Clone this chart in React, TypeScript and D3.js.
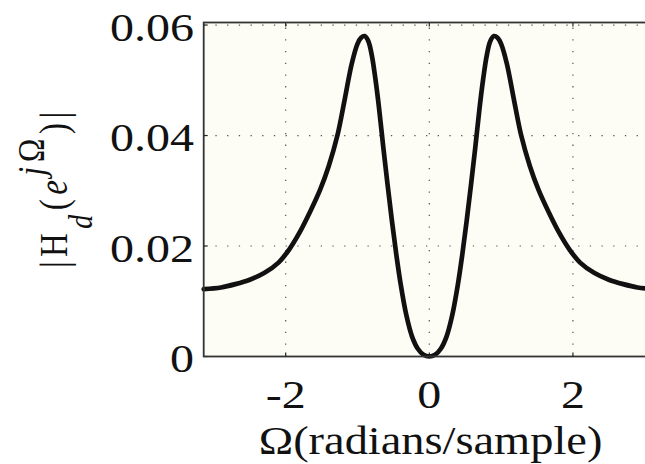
import React from "react";
import * as d3 from "d3";

// Frequency axis (radians/sample) and magnitude readings
const omega = [
  -3.1416, -2.9, -2.7, -2.5, -2.3, -2.1, -1.95, -1.8, -1.66, -1.52, -1.4, -1.28, -1.18, -1.08, -1.0,
  -0.95, -0.9, -0.85, -0.8, -0.75, -0.7, -0.64, -0.58, -0.52, -0.46, -0.4, -0.32, -0.24, -0.16, -0.08,
  0,
  0.08, 0.16, 0.24, 0.32, 0.4, 0.46, 0.52, 0.58, 0.64, 0.7, 0.75, 0.8, 0.85, 0.9, 0.95,
  1.0, 1.08, 1.18, 1.28, 1.4, 1.52, 1.66, 1.8, 1.95, 2.1, 2.3, 2.5, 2.7, 2.9, 3.1416,
];
const magnitude = [
  0.0122, 0.0125, 0.0131, 0.0139, 0.0151, 0.017, 0.0194, 0.0226, 0.0262, 0.0302, 0.0345, 0.04, 0.0464, 0.053, 0.0566,
  0.0577, 0.058, 0.0571, 0.0545, 0.0502, 0.045, 0.0378, 0.031, 0.0245, 0.0185, 0.0132, 0.0075, 0.0036, 0.0014, 0.0003,
  0,
  0.0003, 0.0014, 0.0036, 0.0075, 0.0132, 0.0185, 0.0245, 0.031, 0.0378, 0.045, 0.0502, 0.0545, 0.0571, 0.058, 0.0577,
  0.0566, 0.053, 0.0464, 0.04, 0.0345, 0.0302, 0.0262, 0.0226, 0.0194, 0.017, 0.0151, 0.0139, 0.0131, 0.0125, 0.0122,
];
const xTicks = [-2, 0, 2];
const xTickLabels = ["-2", "0", "2"];
const yTicks = [0, 0.02, 0.04, 0.06];
const yTickLabels = ["0", "0.02", "0.04", "0.06"];

const W = 645;
const H = 464;
const left = 203.7;
const right = 654.9;
const top = 22.5;
const bottom = 356.5;
const FONT = "Liberation Serif, Tinos, Times New Roman, Times, serif";

export default function App() {
  const x = d3.scaleLinear().domain([-Math.PI, Math.PI]).range([left, right]);
  const y = d3.scaleLinear().domain([0, 0.06046]).range([bottom, top]);
  const pts = omega.map((w, i) => [w, magnitude[i]] as [number, number]);
  const line = d3
    .line<[number, number]>()
    .x((d) => x(d[0]))
    .y((d) => y(d[1]))
    .curve(d3.curveCatmullRom.alpha(0.5));
  const gridColor = "#555";
  return (
    <svg
      width={W}
      height={H}
      style={{ position: "absolute", left: 0, top: 0, background: "#fff" }}
    >
      <rect x={left} y={top} width={right - left} height={bottom - top} fill="#fdfdf6" />
      {xTicks.map((t) => (
        <line
          key={"gx" + t}
          x1={x(t)}
          x2={x(t)}
          y1={bottom}
          y2={top}
          stroke={gridColor}
          strokeWidth={1.2}
          strokeDasharray="1.3,10.4"
        />
      ))}
      {yTicks.map((t) => (
        <line
          key={"gy" + t}
          x1={left}
          x2={right}
          y1={y(t)}
          y2={y(t)}
          stroke={gridColor}
          strokeWidth={1.2}
          strokeDasharray="1.3,10.4"
        />
      ))}
      {xTicks.map((t) => (
        <g key={"tx" + t}>
          <line x1={x(t)} x2={x(t)} y1={bottom} y2={bottom - 4} stroke="#222" strokeWidth={1.2} />
          <line x1={x(t)} x2={x(t)} y1={top} y2={top + 4} stroke="#222" strokeWidth={1.2} />
        </g>
      ))}
      {yTicks.map((t) => (
        <line key={"ty" + t} x1={left} x2={left + 4} y1={y(t)} y2={y(t)} stroke="#222" strokeWidth={1.2} />
      ))}
      <path
        d={line(pts) || ""}
        fill="none"
        stroke="#111"
        strokeWidth={4.7}
        strokeLinejoin="round"
        strokeLinecap="round"
      />
      <rect
        x={left}
        y={top}
        width={right - left}
        height={bottom - top}
        fill="none"
        stroke="#333"
        strokeWidth={1.8}
      />
      {xTicks.map((t, i) => (
        <text
          key={"lx" + t}
          transform={`translate(${x(t)},408) scale(1.2,1)`}
          textAnchor="middle"
          style={{ fontFamily: FONT }}
          fontSize={40}
          fill="#111"
        >
          {xTickLabels[i]}
        </text>
      ))}
      {yTicks.map((t, i) => (
        <text
          key={"ly" + t}
          transform={`translate(194,${y(t) + 15.5}) scale(1.2,1)`}
          textAnchor="end"
          style={{ fontFamily: FONT }}
          fontSize={40}
          fill="#111"
        >
          {yTickLabels[i]}
        </text>
      ))}
      <text
        transform="translate(430.5,454) scale(1.19,1)"
        textAnchor="middle"
        style={{ fontFamily: FONT }}
        fontSize={39}
        fill="#111"
      >
        Ω(radians/sample)
      </text>
      <text
        transform="translate(66.5,268) rotate(-90) scale(1,1.2)"
        style={{ fontFamily: FONT }}
        fontSize={33}
        fill="#111"
        textLength={156}
        lengthAdjust="spacing"
      >
        <tspan>|H</tspan>
        <tspan fontSize={28} fontStyle="italic" dy={21.5}>d</tspan>
        <tspan dy={-21.5}>(</tspan>
        <tspan fontStyle="italic">e</tspan>
        <tspan fontSize={32} dy={-19}>
          <tspan fontStyle="italic">j</tspan>Ω
        </tspan>
        <tspan dy={19}>)|</tspan>
      </text>
    </svg>
  );
}
